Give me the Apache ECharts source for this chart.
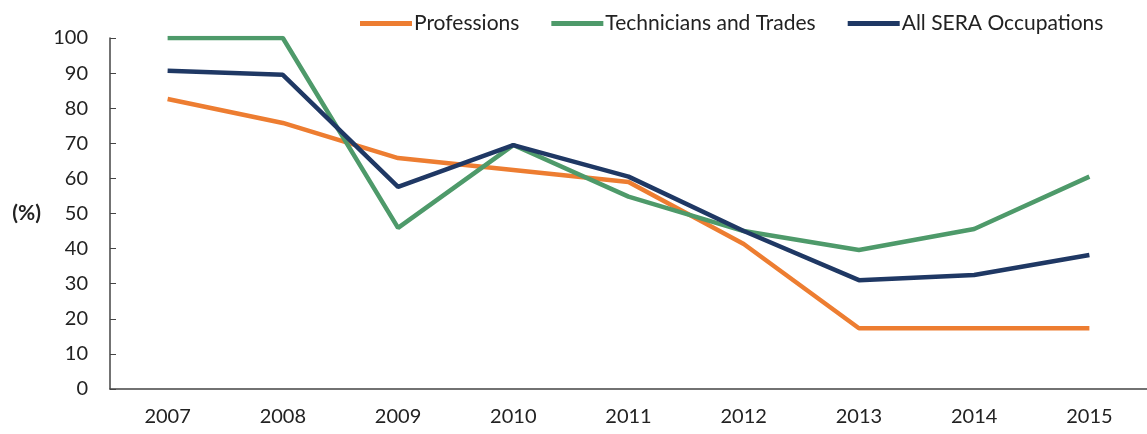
<!DOCTYPE html>
<html>
<head>
<meta charset="utf-8">
<script src="https://cdn.jsdelivr.net/npm/echarts@6/dist/echarts.min.js"></script>
<style>
  html, body { margin: 0; padding: 0; background: #fff; }
  #main { width: 1147px; height: 434px; }
</style>
</head>
<body>
<div id="main"></div>
<script>
// data
var years = ['2007', '2008', '2009', '2010', '2011', '2012', '2013', '2014', '2015'];
var professions = [82.6, 75.8, 65.8, 62.4, 59, 41.3, 17.3, 17.3, 17.3];
var technicians = [100, 100, 45.9, 69.5, 54.8, 45, 39.6, 45.6, 60.5];
var allSera = [90.7, 89.5, 57.6, 69.5, 60.5, 45, 31, 32.5, 38.2];

var myChart = echarts.init(document.getElementById('main'));

function lineSeries(name, data, color) {
    return {
        name: name,
        type: 'line',
        data: data,
        symbol: 'none',
        lineStyle: { width: 4.5, color: color },
        itemStyle: { color: color }
    };
}

var option = {
    backgroundColor: '#fff',
    animation: false,
    textStyle: { fontFamily: 'Lato' },
    legend: {
        top: 8,
        left: 355,
        itemWidth: 52,
        itemHeight: 5,
        itemGap: 32,
        icon: 'rect',
        textStyle: { fontSize: 21, color: '#222', padding: [0, 0, 0, -3] },
        data: ['Professions', 'Technicians and Trades', 'All SERA Occupations']
    },
    grid: {
        left: 110,
        top: 38,
        width: 1044,
        height: 351
    },
    xAxis: {
        type: 'category',
        data: years,
        boundaryGap: true,
        axisLine: { lineStyle: { color: '#444', width: 1.5 } },
        axisTick: { show: false },
        axisLabel: { color: '#222', fontSize: 20, margin: 18 }
    },
    yAxis: {
        type: 'value',
        min: 0,
        max: 100,
        interval: 10,
        name: '(%)',
        nameLocation: 'middle',
        nameRotate: 0,
        nameGap: 69,
        nameTextStyle: { fontSize: 21, fontWeight: 'bold', color: '#222', padding: [6, 0, 0, 0] },
        axisLine: { show: true, lineStyle: { color: '#444', width: 1.5 } },
        axisTick: { show: true, inside: true, length: 6, lineStyle: { color: '#444' } },
        splitLine: { show: false },
        axisLabel: { color: '#222', fontSize: 20, margin: 22 }
    },
    series: [
        lineSeries('Professions', professions, '#ED7D31'),
        lineSeries('Technicians and Trades', technicians, '#4E9A6A'),
        lineSeries('All SERA Occupations', allSera, '#1F3864')
    ]
};

myChart.setOption(option);
window.onresize = myChart.resize;
</script>
</body>
</html>
